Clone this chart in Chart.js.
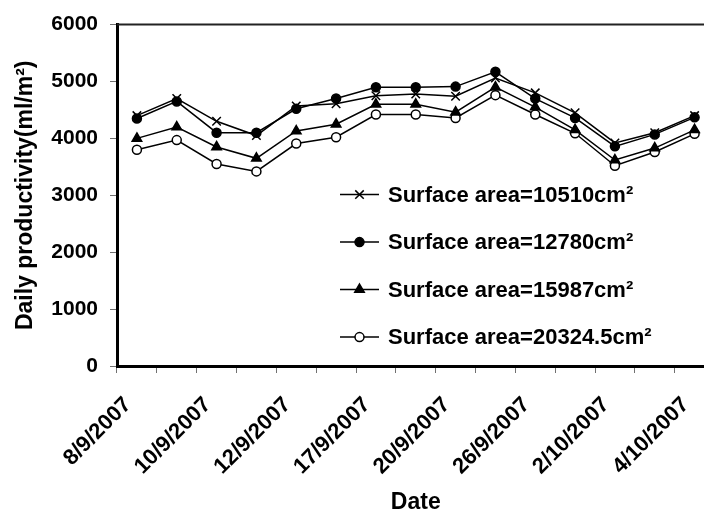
<!DOCTYPE html>
<html>
<head>
<meta charset="utf-8">
<script src="https://cdn.jsdelivr.net/npm/chart.js@4/dist/chart.umd.min.js"></script>
<style>
    html, body { margin: 0; padding: 0; overflow: hidden; background: #fff; }
    #wrap { width: 722px; height: 516px; }
</style>
</head>
<body>
<div id="wrap"><canvas id="productivityChart" width="722" height="516"></canvas></div>
<script>
// sampling dates (only every other one is printed on the axis)
const dates = ["8/9/2007", "9/9/2007", "10/9/2007", "11/9/2007", "12/9/2007", "15/9/2007", "17/9/2007", "19/9/2007",
    "20/9/2007", "24/9/2007", "26/9/2007", "30/9/2007", "2/10/2007", "3/10/2007", "4/10/2007"];

const area10510 = [4400, 4700, 4300, 4050, 4570, 4610, 4750, 4780, 4740, 5060, 4800, 4450, 3920, 4100, 4400];
const area12780 = [4350, 4650, 4100, 4100, 4520, 4700, 4900, 4900, 4910, 5170, 4700, 4360, 3860, 4070, 4370];
const area15987 = [4000, 4200, 3850, 3650, 4130, 4250, 4600, 4600, 4460, 4900, 4550, 4150, 3620, 3830, 4150];
const area20324 = [3800, 3970, 3550, 3420, 3910, 4020, 4420, 4420, 4360, 4760, 4420, 4090, 3520, 3760, 4080];

const seriesNames = ["Surface area=10510cm\u00B2", "Surface area=12780cm\u00B2", "Surface area=15987cm\u00B2", "Surface area=20324.5cm\u00B2"];

const yTicks = [0, 1000, 2000, 3000, 4000, 5000, 6000];

const black = '#000000';
const white = '#ffffff';
const tickGrey = '#707070';
const fontFamily = '"Liberation Sans", Arial, sans-serif';

// legend drawn inside the plot, Excel style
const insideLegend = {
    id: 'insideLegend',
    afterDraw(chart) {
        const { ctx, chartArea } = chart;
        const x0 = chartArea.left + 223;
        const y0 = chartArea.top + 170;
        const gap = 47.5;
        ctx.save();
        chart.data.datasets.forEach((ds, i) => {
            const y = y0 + i * gap;
            ctx.strokeStyle = black;
            ctx.lineWidth = 1.5;
            ctx.beginPath();
            ctx.moveTo(x0, y);
            ctx.lineTo(x0 + 39, y);
            ctx.stroke();
            ctx.fillStyle = ds.pointBackgroundColor;
            ctx.strokeStyle = black;
            ctx.lineWidth = ds.pointBorderWidth;
            Chart.helpers.drawPoint(ctx, {
                pointStyle: ds.pointStyle,
                radius: ds.pointRadius,
                rotation: 0,
                borderWidth: ds.pointBorderWidth
            }, x0 + 19.5, y);
            ctx.fillStyle = black;
            ctx.font = 'bold 22px ' + fontFamily;
            ctx.textAlign = 'left';
            ctx.textBaseline = 'middle';
            ctx.fillText(ds.label, x0 + 48, y + 1);
        });
        ctx.restore();
    }
};

// top and right edges of the plot box
const plotFrame = {
    id: 'plotFrame',
    afterDraw(chart) {
        const { ctx, chartArea } = chart;
        ctx.save();
        ctx.strokeStyle = '#222';
        ctx.lineWidth = 2;
        ctx.beginPath();
        ctx.moveTo(chartArea.left, chartArea.top);
        ctx.lineTo(chartArea.right, chartArea.top);
        ctx.lineTo(chartArea.right, chartArea.bottom);
        ctx.stroke();
        ctx.restore();
    }
};

function lineSet(label, data, style, radius, fill) {
    return {
        label: label,
        data: data,
        borderColor: black,
        borderWidth: 1.5,
        pointStyle: style,
        pointRadius: radius,
        pointHoverRadius: radius,
        pointBackgroundColor: fill,
        pointBorderColor: black,
        pointBorderWidth: 1.5,
        tension: 0,
        fill: false
    };
}

let productivityChart = new Chart("productivityChart", {
    type: "line",
    data: {
        labels: dates,
        datasets: [
            lineSet(seriesNames[0], area10510, 'crossRot', 6, black),
            lineSet(seriesNames[1], area12780, 'circle', 4.5, black),
            lineSet(seriesNames[2], area15987, 'triangle', 5.5, black),
            lineSet(seriesNames[3], area20324, 'circle', 4.5, white)
        ]
    },
    options: {
        responsive: false,
        animation: false,
        layout: { padding: { top: 22, right: 6, left: 0, bottom: 0 } },
        plugins: {
            legend: { display: false },
            tooltip: { enabled: false }
        },
        scales: {
            x: {
                type: 'category',
                offset: true,
                afterFit: function (scale) {
                    scale.height = 150;
                    scale.paddingLeft = 0;
                    scale.paddingRight = 0;
                },
                grid: {
                    offset: true,
                    drawOnChartArea: false,
                    drawTicks: true,
                    tickLength: 7,
                    color: tickGrey
                },
                border: { display: true, color: black, width: 3 },
                ticks: {
                    autoSkip: false,
                    minRotation: 45,
                    maxRotation: 45,
                    padding: 19,
                    labelOffset: -9,
                    color: black,
                    font: { family: fontFamily, size: 22, weight: 'bold' },
                    callback: function (value, index) {
                        return index % 2 === 0 ? this.getLabelForValue(value) : '';
                    }
                },
                title: {
                    display: true,
                    text: 'Date',
                    color: black,
                    padding: { top: 0, bottom: 0 },
                    font: { family: fontFamily, size: 23, weight: 'bold' }
                }
            },
            y: {
                min: yTicks[0],
                max: yTicks[yTicks.length - 1],
                afterFit: function (scale) { scale.width = 117; },
                afterBuildTicks: function (scale) {
                    scale.ticks = yTicks.map(v => ({ value: v }));
                },
                grid: {
                    drawOnChartArea: false,
                    drawTicks: true,
                    tickLength: 7,
                    color: tickGrey
                },
                border: { display: true, color: black, width: 3 },
                ticks: {
                    padding: 12,
                    color: black,
                    font: { family: fontFamily, size: 21, weight: 'bold' },
                    callback: function (value) { return String(value); }
                },
                title: {
                    display: true,
                    text: 'Daily productivity(ml/m\u00B2)',
                    color: black,
                    padding: { top: 12, bottom: 0 },
                    font: { family: fontFamily, size: 23, weight: 'bold' }
                }
            }
        }
    },
    plugins: [insideLegend, plotFrame]
});
</script>
</body>
</html>
